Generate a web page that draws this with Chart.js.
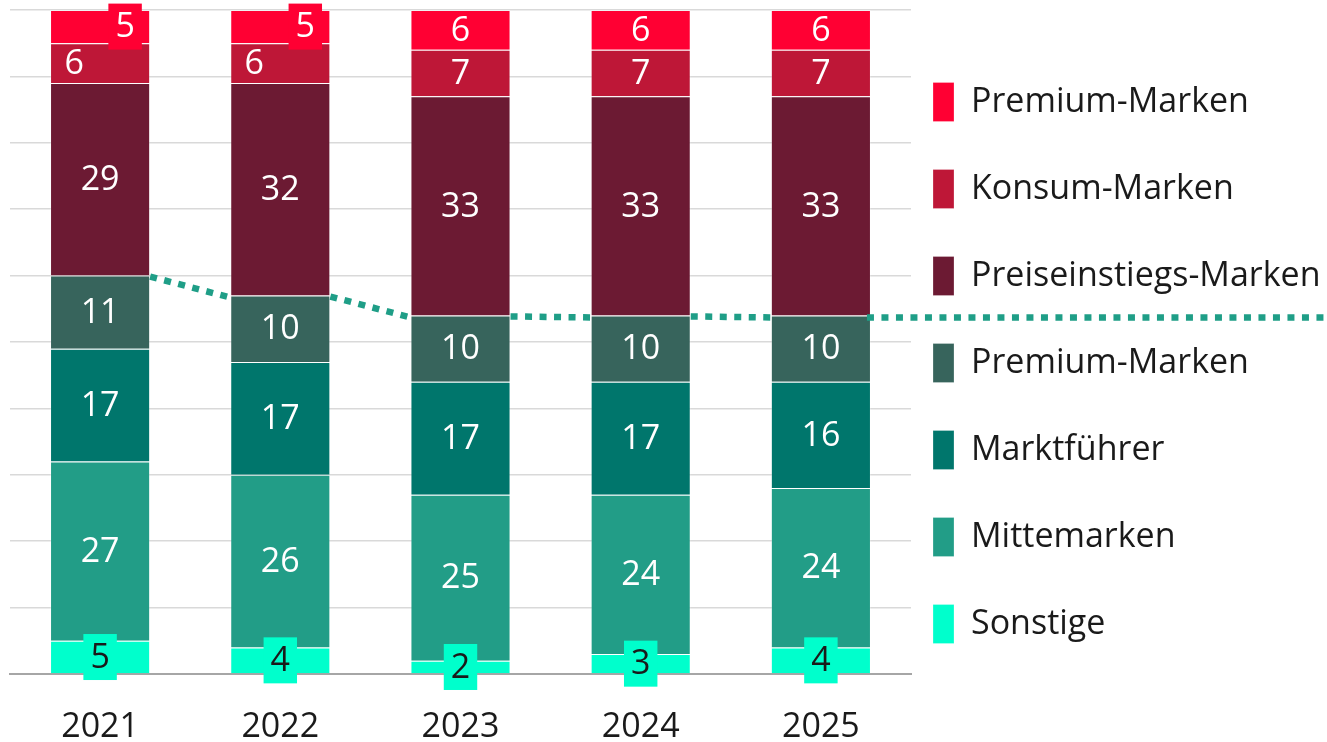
<!DOCTYPE html>
<html lang="de">
<head>
<meta charset="utf-8">
<title>Markensegmente 2021-2025</title>
<script src="https://cdn.jsdelivr.net/npm/chart.js@4/dist/chart.umd.min.js"></script>
<style>
  html, body { margin: 0; padding: 0; background: #fff; }
  .chart-holder { position: relative; width: 1327px; height: 742px; }
</style>
</head>
<body>
<div class="chart-holder"><canvas id="chart"></canvas></div>
<script>
// Data
const years = ['2021', '2022', '2023', '2024', '2025'];
const sonstige = [5, 4, 2, 3, 4];
const mittemarken = [27, 26, 25, 24, 24];
const marktfuehrer = [17, 17, 17, 17, 16];
const premiumGruen = [11, 10, 10, 10, 10];
const preiseinstieg = [29, 32, 33, 33, 33];
const konsum = [6, 6, 7, 7, 7];
const premiumRot = [5, 5, 6, 6, 6];

const FONT = '"Open Sans", "Noto Sans", sans-serif';
const LEGEND_SIZE = 34;

// how much room the legend needs, so the plot keeps its width
const measureCtx = document.createElement('canvas').getContext('2d');
measureCtx.font = LEGEND_SIZE + 'px ' + FONT;
const longest = measureCtx.measureText('Preiseinstiegs-Marken').width;
const legendWidth = 22 + 21 + LEGEND_SIZE / 2 + longest + 10;
const padRight = Math.max(0, 416 - legendWidth);

// Plugins
const seriesLine = {
  id: 'seriesLine',
  afterDatasetsDraw(chart) {
    const bars = chart.getDatasetMeta(3).data;
    const ctx = chart.ctx;
    ctx.save();
    ctx.strokeStyle = '#1F9E87';
    ctx.lineWidth = 6.5;
    ctx.setLineDash([7, 7.5]);
    ctx.beginPath();
    for (let i = 0; i < bars.length - 1; i++) {
      const a = bars[i], b = bars[i + 1];
      ctx.moveTo(a.x + a.width / 2, a.y + 1);
      ctx.lineTo(b.x - b.width / 2, b.y + 2);
    }
    const last = bars[bars.length - 1];
    ctx.moveTo(last.x + last.width / 2 - 4, last.y + 2);
    ctx.lineTo(chart.width, last.y + 2);
    ctx.stroke();
    ctx.restore();
  }
};

const segmentLabels = {
  id: 'segmentLabels',
  afterDatasetsDraw(chart) {
    const ctx = chart.ctx;
    ctx.save();
    ctx.font = '34px ' + FONT;
    ctx.textAlign = 'center';
    ctx.textBaseline = 'middle';
    chart.data.datasets.forEach((ds, di) => {
      chart.getDatasetMeta(di).data.forEach((bar, i) => {
        const txt = String(ds.data[i]);
        const x = bar.x + (ds.labelShift ? ds.labelShift[i] : 0);
        const y = (bar.y + bar.base) / 2;
        if (ds.labelBox && ds.labelBox[i]) {
          const w = ctx.measureText(txt).width + 14;
          ctx.fillStyle = ds.backgroundColor;
          ctx.fillRect(x - w / 2, y - 23, w, 46);
        }
        ctx.fillStyle = ds.labelColor || '#ffffff';
        ctx.fillText(txt, x, y + 1);
      });
    });
    ctx.restore();
  }
};

const edge = 'rgba(255,255,255,0.25)';

new Chart('chart', {
  type: 'bar',
  data: {
    labels: years,
    datasets: [
      { label: 'Sonstige', data: sonstige, backgroundColor: '#00FFCC', borderColor: edge, borderWidth: 1,
        labelColor: '#1a1a1a', labelBox: [true, true, true, true, true] },
      { label: 'Mittemarken', data: mittemarken, backgroundColor: '#229D87', borderColor: edge, borderWidth: 1 },
      { label: 'Marktführer', data: marktfuehrer, backgroundColor: '#00766C', borderColor: edge, borderWidth: 1 },
      { label: 'Premium-Marken', data: premiumGruen, backgroundColor: '#37645C', borderColor: edge, borderWidth: 1 },
      { label: 'Preiseinstiegs-Marken', data: preiseinstieg, backgroundColor: '#6C1A33', borderColor: edge, borderWidth: 1 },
      { label: 'Konsum-Marken', data: konsum, backgroundColor: '#BE1737', borderColor: edge, borderWidth: 1,
        labelShift: [-26, -26, 0, 0, 0] },
      { label: 'Premium-Marken', data: premiumRot, backgroundColor: '#FF0033', borderColor: edge, borderWidth: 1,
        labelShift: [25, 25, 0, 0, 0], labelBox: [true, true, false, false, false] }
    ]
  },
  options: {
    responsive: true,
    maintainAspectRatio: false,
    animation: false,
    layout: { padding: { left: 10, top: 10, right: padRight, bottom: 0 } },
    datasets: { bar: { categoryPercentage: 1, barPercentage: 100 / 180 } },
    scales: {
      x: {
        stacked: true,
        grid: { display: false, drawTicks: true, tickLength: 38 },
        border: { color: '#a6a6a6', width: 2 },
        ticks: { color: '#1a1a1a', padding: 1, font: { family: FONT, size: 34, lineHeight: '28px' } }
      },
      y: {
        stacked: true,
        min: 0,
        max: 100,
        ticks: { display: false, stepSize: 10 },
        grid: { color: '#d9d9d9', lineWidth: 1.5, drawTicks: false },
        border: { display: false }
      }
    },
    plugins: {
      tooltip: { enabled: false },
      legend: {
        position: 'right',
        reverse: true,
        maxWidth: 416,
        labels: {
          boxWidth: 21,
          boxHeight: 39,
          padding: 22,
          color: '#1a1a1a',
          font: { family: FONT, size: LEGEND_SIZE, lineHeight: '65px' },
          generateLabels(chart) {
            return Chart.defaults.plugins.legend.labels.generateLabels(chart)
              .map(item => ({ ...item, text: [item.text] }));
          }
        }
      }
    }
  },
  plugins: [seriesLine, segmentLabels]
});
</script>
</body>
</html>
